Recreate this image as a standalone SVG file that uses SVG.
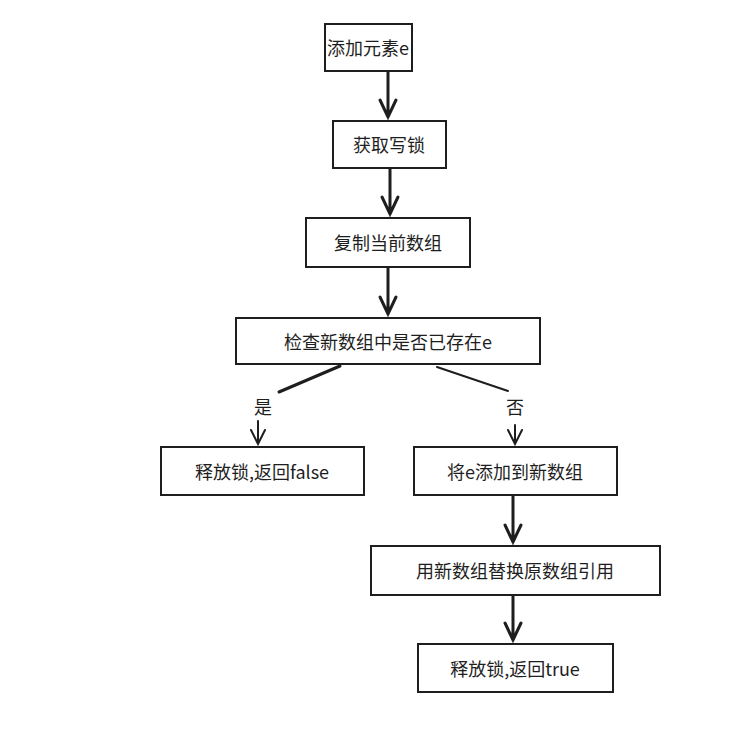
<svg xmlns="http://www.w3.org/2000/svg" width="731" height="733" viewBox="0 0 731 733">
<style>
.b{fill:#fff;stroke:#1e1e1e;stroke-width:2}
.t{font-family:"Noto Sans CJK SC","Noto Sans",sans-serif;font-size:18px;fill:#1e1e1e;text-anchor:middle;dominant-baseline:central}
.c{stroke:#1e1e1e;stroke-width:3;fill:none;stroke-linecap:round}
.h{stroke:#1e1e1e;stroke-width:2;fill:none;stroke-linecap:round}
</style>
<rect width="731" height="733" fill="#fff"/>
<g id="n1"><rect class="b" x="325" y="24" width="87" height="47"/><text class="t" x="368" y="47">添加元素e</text></g>
<g id="n2"><rect class="b" x="333" y="121" width="113" height="47"/><text class="t" x="389" y="144">获取写锁</text></g>
<g id="n3"><rect class="b" x="306" y="218" width="164" height="49"/><text class="t" x="388" y="242">复制当前数组</text></g>
<g id="n4"><rect class="b" x="236" y="318" width="304" height="46"/><text class="t" x="388" y="341">检查新数组中是否已存在e</text></g>
<g id="n5"><rect class="b" x="161" y="447" width="203" height="48"/><text class="t" x="262" y="471">释放锁,返回false</text></g>
<g id="n6"><rect class="b" x="414" y="447" width="203" height="48"/><text class="t" x="515" y="471">将e添加到新数组</text></g>
<g id="n7"><rect class="b" x="371" y="546" width="289" height="49"/><text class="t" x="515" y="570">用新数组替换原数组引用</text></g>
<g id="n8"><rect class="b" x="418" y="644" width="195" height="48"/><text class="t" x="515" y="668">释放锁,返回true</text></g>
<g id="connectors">
<path class="c" d="M388 72V117M380 100L388 117L396 100"/>
<path class="c" d="M390 169V214M382 197L390 214L398 197"/>
<path class="c" d="M388 268V314M380 297L388 314L396 297"/>
<path class="c" d="M340 366L279 392"/>
<text class="t" x="263" y="406">是</text>
<path class="h" d="M258 421V444M251 430L258 444L265 430"/>
<path class="h" d="M437 367L508 391"/>
<text class="t" x="515" y="406">否</text>
<path class="h" d="M515 425V444M508 430L515 444L522 430"/>
<path class="c" d="M513 496V542M505 525L513 542L521 525"/>
<path class="c" d="M513 596V640M505 623L513 640L521 623"/>
</g>
</svg>
